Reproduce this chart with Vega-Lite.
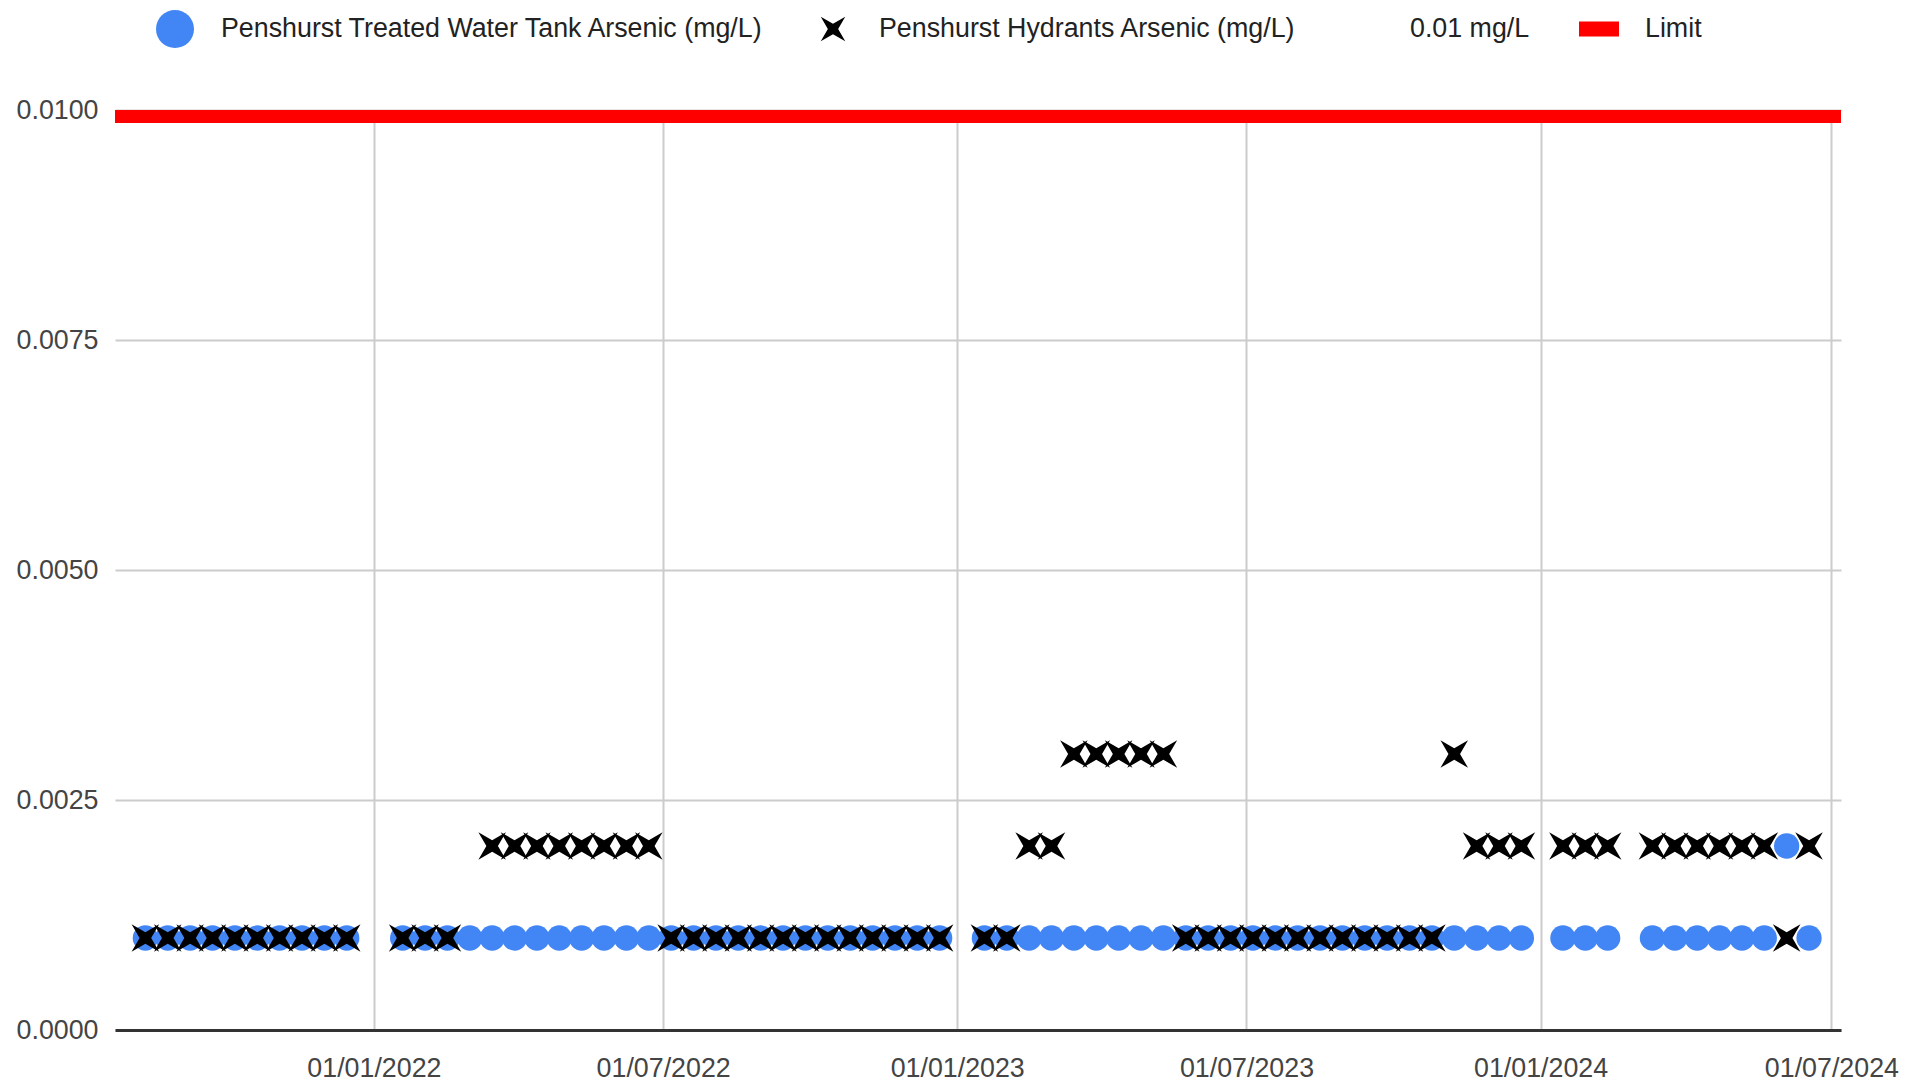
{
  "$schema": "https://vega.github.io/schema/vega-lite/v6.json",
  "width": 1726,
  "height": 920,
  "autosize": {"type": "none"},
  "padding": {"left": 115, "top": 110, "right": 82, "bottom": 56},
  "background": "white",
  "config": {
    "font": "Liberation Sans",
    "view": {"stroke": null}
  },
  "datasets": {
    "tank": [
      {"date": "2021-08-11", "series": "Penshurst Treated Water Tank Arsenic (mg/L)", "value": 0.001},
      {"date": "2021-08-25", "series": "Penshurst Treated Water Tank Arsenic (mg/L)", "value": 0.001},
      {"date": "2021-09-08", "series": "Penshurst Treated Water Tank Arsenic (mg/L)", "value": 0.001},
      {"date": "2021-09-22", "series": "Penshurst Treated Water Tank Arsenic (mg/L)", "value": 0.001},
      {"date": "2021-10-06", "series": "Penshurst Treated Water Tank Arsenic (mg/L)", "value": 0.001},
      {"date": "2021-10-20", "series": "Penshurst Treated Water Tank Arsenic (mg/L)", "value": 0.001},
      {"date": "2021-11-03", "series": "Penshurst Treated Water Tank Arsenic (mg/L)", "value": 0.001},
      {"date": "2021-11-17", "series": "Penshurst Treated Water Tank Arsenic (mg/L)", "value": 0.001},
      {"date": "2021-12-01", "series": "Penshurst Treated Water Tank Arsenic (mg/L)", "value": 0.001},
      {"date": "2021-12-15", "series": "Penshurst Treated Water Tank Arsenic (mg/L)", "value": 0.001},
      {"date": "2022-01-19", "series": "Penshurst Treated Water Tank Arsenic (mg/L)", "value": 0.001},
      {"date": "2022-02-02", "series": "Penshurst Treated Water Tank Arsenic (mg/L)", "value": 0.001},
      {"date": "2022-02-16", "series": "Penshurst Treated Water Tank Arsenic (mg/L)", "value": 0.001},
      {"date": "2022-03-02", "series": "Penshurst Treated Water Tank Arsenic (mg/L)", "value": 0.001},
      {"date": "2022-03-16", "series": "Penshurst Treated Water Tank Arsenic (mg/L)", "value": 0.001},
      {"date": "2022-03-30", "series": "Penshurst Treated Water Tank Arsenic (mg/L)", "value": 0.001},
      {"date": "2022-04-13", "series": "Penshurst Treated Water Tank Arsenic (mg/L)", "value": 0.001},
      {"date": "2022-04-27", "series": "Penshurst Treated Water Tank Arsenic (mg/L)", "value": 0.001},
      {"date": "2022-05-11", "series": "Penshurst Treated Water Tank Arsenic (mg/L)", "value": 0.001},
      {"date": "2022-05-25", "series": "Penshurst Treated Water Tank Arsenic (mg/L)", "value": 0.001},
      {"date": "2022-06-08", "series": "Penshurst Treated Water Tank Arsenic (mg/L)", "value": 0.001},
      {"date": "2022-06-22", "series": "Penshurst Treated Water Tank Arsenic (mg/L)", "value": 0.001},
      {"date": "2022-07-06", "series": "Penshurst Treated Water Tank Arsenic (mg/L)", "value": 0.001},
      {"date": "2022-07-20", "series": "Penshurst Treated Water Tank Arsenic (mg/L)", "value": 0.001},
      {"date": "2022-08-03", "series": "Penshurst Treated Water Tank Arsenic (mg/L)", "value": 0.001},
      {"date": "2022-08-17", "series": "Penshurst Treated Water Tank Arsenic (mg/L)", "value": 0.001},
      {"date": "2022-08-31", "series": "Penshurst Treated Water Tank Arsenic (mg/L)", "value": 0.001},
      {"date": "2022-09-14", "series": "Penshurst Treated Water Tank Arsenic (mg/L)", "value": 0.001},
      {"date": "2022-09-28", "series": "Penshurst Treated Water Tank Arsenic (mg/L)", "value": 0.001},
      {"date": "2022-10-12", "series": "Penshurst Treated Water Tank Arsenic (mg/L)", "value": 0.001},
      {"date": "2022-10-26", "series": "Penshurst Treated Water Tank Arsenic (mg/L)", "value": 0.001},
      {"date": "2022-11-09", "series": "Penshurst Treated Water Tank Arsenic (mg/L)", "value": 0.001},
      {"date": "2022-11-23", "series": "Penshurst Treated Water Tank Arsenic (mg/L)", "value": 0.001},
      {"date": "2022-12-07", "series": "Penshurst Treated Water Tank Arsenic (mg/L)", "value": 0.001},
      {"date": "2022-12-21", "series": "Penshurst Treated Water Tank Arsenic (mg/L)", "value": 0.001},
      {"date": "2023-01-18", "series": "Penshurst Treated Water Tank Arsenic (mg/L)", "value": 0.001},
      {"date": "2023-02-01", "series": "Penshurst Treated Water Tank Arsenic (mg/L)", "value": 0.001},
      {"date": "2023-02-15", "series": "Penshurst Treated Water Tank Arsenic (mg/L)", "value": 0.001},
      {"date": "2023-03-01", "series": "Penshurst Treated Water Tank Arsenic (mg/L)", "value": 0.001},
      {"date": "2023-03-15", "series": "Penshurst Treated Water Tank Arsenic (mg/L)", "value": 0.001},
      {"date": "2023-03-29", "series": "Penshurst Treated Water Tank Arsenic (mg/L)", "value": 0.001},
      {"date": "2023-04-12", "series": "Penshurst Treated Water Tank Arsenic (mg/L)", "value": 0.001},
      {"date": "2023-04-26", "series": "Penshurst Treated Water Tank Arsenic (mg/L)", "value": 0.001},
      {"date": "2023-05-10", "series": "Penshurst Treated Water Tank Arsenic (mg/L)", "value": 0.001},
      {"date": "2023-05-24", "series": "Penshurst Treated Water Tank Arsenic (mg/L)", "value": 0.001},
      {"date": "2023-06-07", "series": "Penshurst Treated Water Tank Arsenic (mg/L)", "value": 0.001},
      {"date": "2023-06-21", "series": "Penshurst Treated Water Tank Arsenic (mg/L)", "value": 0.001},
      {"date": "2023-07-05", "series": "Penshurst Treated Water Tank Arsenic (mg/L)", "value": 0.001},
      {"date": "2023-07-19", "series": "Penshurst Treated Water Tank Arsenic (mg/L)", "value": 0.001},
      {"date": "2023-08-02", "series": "Penshurst Treated Water Tank Arsenic (mg/L)", "value": 0.001},
      {"date": "2023-08-16", "series": "Penshurst Treated Water Tank Arsenic (mg/L)", "value": 0.001},
      {"date": "2023-08-30", "series": "Penshurst Treated Water Tank Arsenic (mg/L)", "value": 0.001},
      {"date": "2023-09-13", "series": "Penshurst Treated Water Tank Arsenic (mg/L)", "value": 0.001},
      {"date": "2023-09-27", "series": "Penshurst Treated Water Tank Arsenic (mg/L)", "value": 0.001},
      {"date": "2023-10-11", "series": "Penshurst Treated Water Tank Arsenic (mg/L)", "value": 0.001},
      {"date": "2023-10-25", "series": "Penshurst Treated Water Tank Arsenic (mg/L)", "value": 0.001},
      {"date": "2023-11-08", "series": "Penshurst Treated Water Tank Arsenic (mg/L)", "value": 0.001},
      {"date": "2023-11-22", "series": "Penshurst Treated Water Tank Arsenic (mg/L)", "value": 0.001},
      {"date": "2023-12-06", "series": "Penshurst Treated Water Tank Arsenic (mg/L)", "value": 0.001},
      {"date": "2023-12-20", "series": "Penshurst Treated Water Tank Arsenic (mg/L)", "value": 0.001},
      {"date": "2024-01-15", "series": "Penshurst Treated Water Tank Arsenic (mg/L)", "value": 0.001},
      {"date": "2024-01-29", "series": "Penshurst Treated Water Tank Arsenic (mg/L)", "value": 0.001},
      {"date": "2024-02-12", "series": "Penshurst Treated Water Tank Arsenic (mg/L)", "value": 0.001},
      {"date": "2024-03-11", "series": "Penshurst Treated Water Tank Arsenic (mg/L)", "value": 0.001},
      {"date": "2024-03-25", "series": "Penshurst Treated Water Tank Arsenic (mg/L)", "value": 0.001},
      {"date": "2024-04-08", "series": "Penshurst Treated Water Tank Arsenic (mg/L)", "value": 0.001},
      {"date": "2024-04-22", "series": "Penshurst Treated Water Tank Arsenic (mg/L)", "value": 0.001},
      {"date": "2024-05-06", "series": "Penshurst Treated Water Tank Arsenic (mg/L)", "value": 0.001},
      {"date": "2024-05-20", "series": "Penshurst Treated Water Tank Arsenic (mg/L)", "value": 0.001},
      {"date": "2024-06-03", "series": "Penshurst Treated Water Tank Arsenic (mg/L)", "value": 0.002},
      {"date": "2024-06-17", "series": "Penshurst Treated Water Tank Arsenic (mg/L)", "value": 0.001}
    ],
    "hydrant": [
      {"date": "2021-08-11", "series": "Penshurst Hydrants Arsenic (mg/L)", "value": 0.001},
      {"date": "2021-08-25", "series": "Penshurst Hydrants Arsenic (mg/L)", "value": 0.001},
      {"date": "2021-09-08", "series": "Penshurst Hydrants Arsenic (mg/L)", "value": 0.001},
      {"date": "2021-09-22", "series": "Penshurst Hydrants Arsenic (mg/L)", "value": 0.001},
      {"date": "2021-10-06", "series": "Penshurst Hydrants Arsenic (mg/L)", "value": 0.001},
      {"date": "2021-10-20", "series": "Penshurst Hydrants Arsenic (mg/L)", "value": 0.001},
      {"date": "2021-11-03", "series": "Penshurst Hydrants Arsenic (mg/L)", "value": 0.001},
      {"date": "2021-11-17", "series": "Penshurst Hydrants Arsenic (mg/L)", "value": 0.001},
      {"date": "2021-12-01", "series": "Penshurst Hydrants Arsenic (mg/L)", "value": 0.001},
      {"date": "2021-12-15", "series": "Penshurst Hydrants Arsenic (mg/L)", "value": 0.001},
      {"date": "2022-01-19", "series": "Penshurst Hydrants Arsenic (mg/L)", "value": 0.001},
      {"date": "2022-02-02", "series": "Penshurst Hydrants Arsenic (mg/L)", "value": 0.001},
      {"date": "2022-02-16", "series": "Penshurst Hydrants Arsenic (mg/L)", "value": 0.001},
      {"date": "2022-03-16", "series": "Penshurst Hydrants Arsenic (mg/L)", "value": 0.002},
      {"date": "2022-03-30", "series": "Penshurst Hydrants Arsenic (mg/L)", "value": 0.002},
      {"date": "2022-04-13", "series": "Penshurst Hydrants Arsenic (mg/L)", "value": 0.002},
      {"date": "2022-04-27", "series": "Penshurst Hydrants Arsenic (mg/L)", "value": 0.002},
      {"date": "2022-05-11", "series": "Penshurst Hydrants Arsenic (mg/L)", "value": 0.002},
      {"date": "2022-05-25", "series": "Penshurst Hydrants Arsenic (mg/L)", "value": 0.002},
      {"date": "2022-06-08", "series": "Penshurst Hydrants Arsenic (mg/L)", "value": 0.002},
      {"date": "2022-06-22", "series": "Penshurst Hydrants Arsenic (mg/L)", "value": 0.002},
      {"date": "2022-07-06", "series": "Penshurst Hydrants Arsenic (mg/L)", "value": 0.001},
      {"date": "2022-07-20", "series": "Penshurst Hydrants Arsenic (mg/L)", "value": 0.001},
      {"date": "2022-08-03", "series": "Penshurst Hydrants Arsenic (mg/L)", "value": 0.001},
      {"date": "2022-08-17", "series": "Penshurst Hydrants Arsenic (mg/L)", "value": 0.001},
      {"date": "2022-08-31", "series": "Penshurst Hydrants Arsenic (mg/L)", "value": 0.001},
      {"date": "2022-09-14", "series": "Penshurst Hydrants Arsenic (mg/L)", "value": 0.001},
      {"date": "2022-09-28", "series": "Penshurst Hydrants Arsenic (mg/L)", "value": 0.001},
      {"date": "2022-10-12", "series": "Penshurst Hydrants Arsenic (mg/L)", "value": 0.001},
      {"date": "2022-10-26", "series": "Penshurst Hydrants Arsenic (mg/L)", "value": 0.001},
      {"date": "2022-11-09", "series": "Penshurst Hydrants Arsenic (mg/L)", "value": 0.001},
      {"date": "2022-11-23", "series": "Penshurst Hydrants Arsenic (mg/L)", "value": 0.001},
      {"date": "2022-12-07", "series": "Penshurst Hydrants Arsenic (mg/L)", "value": 0.001},
      {"date": "2022-12-21", "series": "Penshurst Hydrants Arsenic (mg/L)", "value": 0.001},
      {"date": "2023-01-18", "series": "Penshurst Hydrants Arsenic (mg/L)", "value": 0.001},
      {"date": "2023-02-01", "series": "Penshurst Hydrants Arsenic (mg/L)", "value": 0.001},
      {"date": "2023-02-15", "series": "Penshurst Hydrants Arsenic (mg/L)", "value": 0.002},
      {"date": "2023-03-01", "series": "Penshurst Hydrants Arsenic (mg/L)", "value": 0.002},
      {"date": "2023-03-15", "series": "Penshurst Hydrants Arsenic (mg/L)", "value": 0.003},
      {"date": "2023-03-29", "series": "Penshurst Hydrants Arsenic (mg/L)", "value": 0.003},
      {"date": "2023-04-12", "series": "Penshurst Hydrants Arsenic (mg/L)", "value": 0.003},
      {"date": "2023-04-26", "series": "Penshurst Hydrants Arsenic (mg/L)", "value": 0.003},
      {"date": "2023-05-10", "series": "Penshurst Hydrants Arsenic (mg/L)", "value": 0.003},
      {"date": "2023-05-24", "series": "Penshurst Hydrants Arsenic (mg/L)", "value": 0.001},
      {"date": "2023-06-07", "series": "Penshurst Hydrants Arsenic (mg/L)", "value": 0.001},
      {"date": "2023-06-21", "series": "Penshurst Hydrants Arsenic (mg/L)", "value": 0.001},
      {"date": "2023-07-05", "series": "Penshurst Hydrants Arsenic (mg/L)", "value": 0.001},
      {"date": "2023-07-19", "series": "Penshurst Hydrants Arsenic (mg/L)", "value": 0.001},
      {"date": "2023-08-02", "series": "Penshurst Hydrants Arsenic (mg/L)", "value": 0.001},
      {"date": "2023-08-16", "series": "Penshurst Hydrants Arsenic (mg/L)", "value": 0.001},
      {"date": "2023-08-30", "series": "Penshurst Hydrants Arsenic (mg/L)", "value": 0.001},
      {"date": "2023-09-13", "series": "Penshurst Hydrants Arsenic (mg/L)", "value": 0.001},
      {"date": "2023-09-27", "series": "Penshurst Hydrants Arsenic (mg/L)", "value": 0.001},
      {"date": "2023-10-11", "series": "Penshurst Hydrants Arsenic (mg/L)", "value": 0.001},
      {"date": "2023-10-25", "series": "Penshurst Hydrants Arsenic (mg/L)", "value": 0.001},
      {"date": "2023-11-08", "series": "Penshurst Hydrants Arsenic (mg/L)", "value": 0.003},
      {"date": "2023-11-22", "series": "Penshurst Hydrants Arsenic (mg/L)", "value": 0.002},
      {"date": "2023-12-06", "series": "Penshurst Hydrants Arsenic (mg/L)", "value": 0.002},
      {"date": "2023-12-20", "series": "Penshurst Hydrants Arsenic (mg/L)", "value": 0.002},
      {"date": "2024-01-15", "series": "Penshurst Hydrants Arsenic (mg/L)", "value": 0.002},
      {"date": "2024-01-29", "series": "Penshurst Hydrants Arsenic (mg/L)", "value": 0.002},
      {"date": "2024-02-12", "series": "Penshurst Hydrants Arsenic (mg/L)", "value": 0.002},
      {"date": "2024-03-11", "series": "Penshurst Hydrants Arsenic (mg/L)", "value": 0.002},
      {"date": "2024-03-25", "series": "Penshurst Hydrants Arsenic (mg/L)", "value": 0.002},
      {"date": "2024-04-08", "series": "Penshurst Hydrants Arsenic (mg/L)", "value": 0.002},
      {"date": "2024-04-22", "series": "Penshurst Hydrants Arsenic (mg/L)", "value": 0.002},
      {"date": "2024-05-06", "series": "Penshurst Hydrants Arsenic (mg/L)", "value": 0.002},
      {"date": "2024-05-20", "series": "Penshurst Hydrants Arsenic (mg/L)", "value": 0.002},
      {"date": "2024-06-03", "series": "Penshurst Hydrants Arsenic (mg/L)", "value": 0.001},
      {"date": "2024-06-17", "series": "Penshurst Hydrants Arsenic (mg/L)", "value": 0.002}
    ],
    "limit": [
      {"series": "Limit", "value": 0.01}
    ]
  },
  "layer": [
    {
      "data": {"name": "tank"},
      "mark": {"type": "point", "filled": true, "opacity": 1, "size": 640, "strokeWidth": 0},
      "encoding": {
        "x": {
          "field": "date",
          "type": "temporal",
          "scale": {
            "type": "utc",
            "domain": [
              {"year": 2021, "month": 7, "date": 23, "utc": true},
              {"year": 2024, "month": 7, "date": 7, "utc": true}
            ]
          },
          "axis": {
            "title": null,
            "values": [
              {"year": 2022, "month": 1, "date": 1, "utc": true},
              {"year": 2022, "month": 7, "date": 1, "utc": true},
              {"year": 2023, "month": 1, "date": 1, "utc": true},
              {"year": 2023, "month": 7, "date": 1, "utc": true},
              {"year": 2024, "month": 1, "date": 1, "utc": true},
              {"year": 2024, "month": 7, "date": 1, "utc": true}
            ],
            "format": "%d/%m/%Y",
            "labelFontSize": 26.8,
            "labelColor": "#444444",
            "labelPadding": 25,
            "labelOverlap": false,
            "labelBound": false,
            "labelFlush": false,
            "ticks": false,
            "grid": true,
            "gridColor": "#cccccc",
            "gridWidth": 2,
            "domainColor": "#333333",
            "domainWidth": 3
          }
        },
        "y": {
          "field": "value",
          "type": "quantitative",
          "scale": {"domain": [0, 0.01], "nice": false, "zero": true},
          "axis": {
            "title": null,
            "values": [0, 0.0025, 0.005, 0.0075, 0.01],
            "format": ".4f",
            "labelFontSize": 26.8,
            "labelColor": "#444444",
            "labelPadding": 17,
            "ticks": false,
            "domain": false,
            "grid": true,
            "gridColor": "#cccccc",
            "gridWidth": 2
          }
        },
        "color": {
          "field": "series",
          "type": "nominal",
          "scale": {
            "domain": ["Penshurst Treated Water Tank Arsenic (mg/L)", "Penshurst Hydrants Arsenic (mg/L)", "0.01 mg/L", "Limit"],
            "range": ["#4285f4", "#000000", "transparent", "#ff0000"]
          },
          "legend": {
            "orient": "none",
            "legendX": 41,
            "legendY": -100,
            "direction": "horizontal",
            "columns": 4,
            "title": null,
            "padding": 0,
            "symbolSize": 1444,
            "symbolStrokeWidth": 0,
            "symbolOpacity": 1,
            "labelFontSize": 26.8,
            "labelColor": "#222222",
            "labelOffset": 27,
            "columnPadding": 49,
            "labelLimit": 0,
            "encode": {
              "symbols": {
                "update": {
                  "size": {"signal": "datum.value === 'Limit' ? 1600 : datum.value === 'Penshurst Hydrants Arsenic (mg/L)' ? 600 : 1444"}
                }
              }
            }
          }
        },
        "shape": {
          "field": "series",
          "type": "nominal",
          "scale": {
            "domain": ["Penshurst Treated Water Tank Arsenic (mg/L)", "Penshurst Hydrants Arsenic (mg/L)", "0.01 mg/L", "Limit"],
            "range": [
              "circle",
              "M-1.55,-1.55M1.55,1.55M-1,-1L0,-0.42L1,-1L0.42,0L1,1L0,0.42L-1,1L-0.42,0Z",
              "circle",
              "M0,-0.95M0,0.95M-1,-0.375H1V0.375H-1Z"
            ]
          }
        }
      }
    },
    {
      "data": {"name": "hydrant"},
      "mark": {"type": "point", "filled": true, "opacity": 1, "size": 760, "strokeWidth": 0},
      "encoding": {
        "x": {"field": "date", "type": "temporal"},
        "y": {"field": "value", "type": "quantitative"},
        "color": {"field": "series", "type": "nominal"},
        "shape": {"field": "series", "type": "nominal"}
      }
    },
    {
      "data": {"name": "limit"},
      "mark": {"type": "rule", "color": "#ff0000", "strokeWidth": 26, "clip": true},
      "encoding": {
        "y": {"field": "value", "type": "quantitative"}
      }
    }
  ]
}
